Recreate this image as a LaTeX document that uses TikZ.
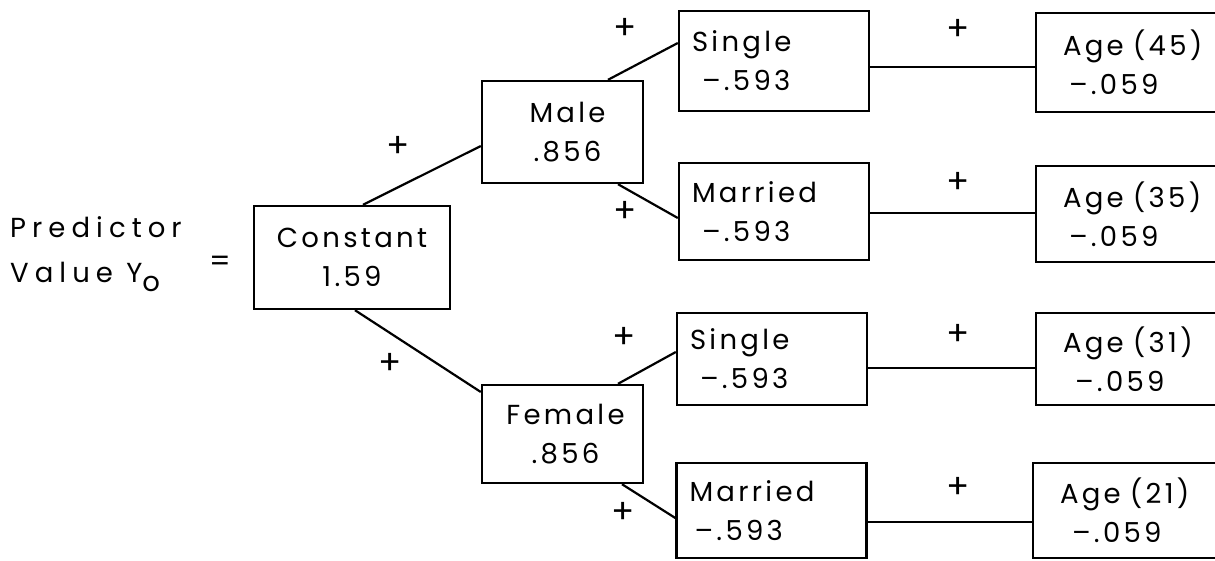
\documentclass[tikz,border=0pt]{standalone}
\usepackage{fontspec}
\setmainfont{Poppins}[LetterSpace=12]
\begin{document}
\begin{tikzpicture}[x=1pt,y=-1pt,
  lbl/.style={font=\fontsize{27.5}{39}\selectfont, inner sep=0pt},
  box/.style={lbl, draw, line width=2.4pt, rectangle, align=center},
  lbox/.style={lbl, draw, line width=2.4pt, rectangle, align=left},
  link/.style={line width=2.2pt},
  plus/.style={font=\fontsize{34}{34}\selectfont, inner sep=0pt}]
\useasboundingbox (0,0) rectangle (1215,560);
\clip (0,0) rectangle (1215,560);

% left-hand side of the equation
\node[lbl, align=left, anchor=west, font=\fontsize{27.5}{45}\selectfont\addfontfeatures{LetterSpace=22}] (pv) at (10,254)
  {Predictor\\Value Y\raisebox{-0.35em}{o}};
\node[lbl, font=\fontsize{30}{30}\selectfont] (eq) at (220,264) {=};

% root and first split
\node[box, minimum width=196pt, minimum height=103pt] (cst) at (352,257.5) {Constant\\1.59};
\node[box, minimum width=161pt, minimum height=102pt] (male) at (562.5,132) {\hspace*{10pt}Male\\\hspace*{10pt}.856};
\node[box, minimum width=161pt, minimum height=98pt] (fem) at (562.5,434) {\hspace*{6pt}Female\\\hspace*{6pt}.856};

% marital status
\node[lbox, text width=164pt, inner xsep=13pt, minimum height=100pt] (sg1) at (774,61) {Single\\\hspace*{10pt}–.593};
\node[lbox, text width=164pt, inner xsep=13pt, minimum height=97pt] (mr1) at (774,211.5) {Married\\\hspace*{10pt}–.593};
\node[lbox, text width=164pt, inner xsep=13pt, minimum height=92pt] (sg2) at (772,359) {Single\\\hspace*{10pt}–.593};
\node[lbox, text width=164pt, inner xsep=13pt, minimum height=95pt] (mr2) at (771.5,510.5) {Married\\\hspace*{5pt}–.593};

% age terms
\node[lbox, text width=146pt, inner xsep=27pt, minimum height=99pt] (a45) at (1136,62.5) {Age (45)\\\hspace*{6pt}–.059};
\node[lbox, text width=146pt, inner xsep=27pt, minimum height=96pt] (a35) at (1136,214) {Age (35)\\\hspace*{6pt}–.059};
\node[lbox, text width=146pt, inner xsep=27pt, minimum height=92pt] (a31) at (1136,359) {Age (31)\\\hspace*{12pt}–.059};
\node[lbox, text width=146pt, inner xsep=27pt, minimum height=95pt] (a21) at (1133,510.5) {Age (21)\\\hspace*{12pt}–.059};

% branches
\draw[link] ([xshift=11pt]cst.north) -- ([yshift=-14pt]male.west);
\draw[link] ([xshift=3pt]cst.south) -- ([yshift=42pt]fem.west);
\draw[link] ([xshift=45.5pt]male.north) -- ([yshift=18pt]sg1.west);
\draw[link] ([xshift=55.5pt]male.south) -- ([yshift=-6.5pt]mr1.west);
\draw[link] ([xshift=55.5pt]fem.north) -- ([yshift=7pt]sg2.west);
\draw[link] ([xshift=59.5pt]fem.south) -- ([yshift=-7.5pt]mr2.west);
\draw[link] ([yshift=-6pt]sg1.east) -- ([yshift=-6pt]sg1.east -| a45.west);
\draw[link] ([yshift=-1.5pt]mr1.east) -- ([yshift=-1.5pt]mr1.east -| a35.west);
\draw[link] ([yshift=-9pt]sg2.east) -- ([yshift=-9pt]sg2.east -| a31.west);
\draw[link] ([yshift=-11.5pt]mr2.east) -- ([yshift=-11.5pt]mr2.east -| a21.west);

% signs on the branches
\node[plus] (p1) at (398,147) {+};
\node[plus] (p2) at (390,364) {+};
\node[plus] (p3) at (625,29) {+};
\node[plus] (p4) at (625,212) {+};
\node[plus] (p5) at (624,338) {+};
\node[plus] (p6) at (623,513) {+};
\node[plus] (p7) at (958,30) {+};
\node[plus] (p8) at (958,183) {+};
\node[plus] (p9) at (958,335) {+};
\node[plus] (p10) at (958,488) {+};
\end{tikzpicture}
\end{document}
